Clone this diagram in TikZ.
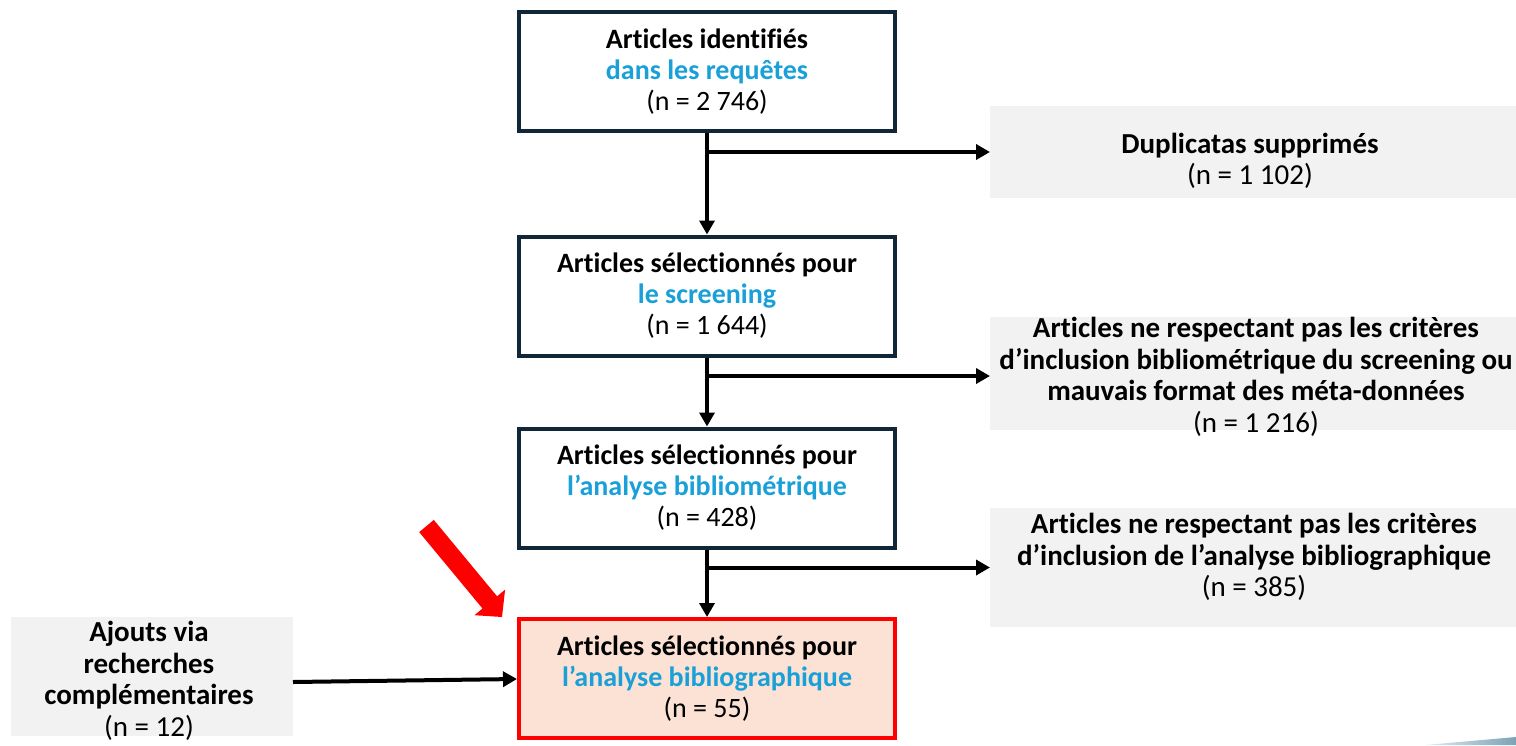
\documentclass[tikz,border=0pt]{standalone}
\usepackage{fontspec}
\setmainfont{Carlito}[Ligatures=NoCommon]
\usetikzlibrary{arrows.meta}
\definecolor{navy}{HTML}{0F2737}
\definecolor{accblue}{HTML}{1AA0D8}
\definecolor{grayfill}{HTML}{F2F2F2}
\definecolor{salmon}{HTML}{FBE2D5}
\definecolor{redline}{HTML}{FF0000}
\begin{document}
\begin{tikzpicture}[x=1pt,y=-1pt,
  mainbox/.style={draw=navy, line width=4pt, fill=white, minimum width=376pt, minimum height=119pt, inner sep=0pt, align=center, font=\fontsize{28}{31}\selectfont},
  redbox/.style={mainbox, draw=redline, fill=salmon},
  graybox/.style={fill=grayfill, inner sep=0pt, outer sep=0pt},
  txt/.style={align=center, font=\fontsize{29}{31.5}\selectfont, inner sep=0pt},
  arr/.style={line width=4pt, -{Triangle[length=14pt,width=15pt]}}
]
\useasboundingbox (0,0) rectangle (1516,745);

% main column
\node[mainbox] (b1) at (707,71.5) {\textbf{Articles identifiés}\\\textbf{\color{accblue}dans les requêtes}\\(n = 2 746)};
\node[mainbox] (b2) at (707,296) {\textbf{Articles sélectionnés pour}\\\textbf{\color{accblue}le screening}\\(n = 1 644)};
\node[mainbox] (b3) at (707,488) {\textbf{Articles sélectionnés pour}\\\textbf{\color{accblue}l’analyse bibliométrique}\\(n = 428)};
\node[redbox] (b4) at (707,678.5) {\textbf{Articles sélectionnés pour}\\\textbf{\color{accblue}l’analyse bibliographique}\\(n = 55)};

% grey boxes
\node[graybox, minimum width=526pt, minimum height=92pt] (g1) at (1253,152) {};
\node[txt] (t1) at (1250,161) {\textbf{Duplicatas supprimés}\\(n = 1 102)};
\node[graybox, minimum width=526pt, minimum height=113pt] (g2) at (1253,373.5) {};
\node[txt] (t2) at (1256,377) {\textbf{Articles ne respectant pas les critères}\\\textbf{d’inclusion bibliométrique du screening ou}\\\textbf{mauvais format des méta-données}\\(n = 1 216)};
\node[graybox, minimum width=526pt, minimum height=119pt] (g3) at (1253,567.5) {};
\node[txt] (t3) at (1254,557) {\textbf{Articles ne respectant pas les critères}\\\textbf{d’inclusion de l’analyse bibliographique}\\(n = 385)};
\node[graybox, minimum width=282pt, minimum height=119pt] (gl) at (152,676.5) {};
\node[txt] (tl) at (149,681) {\textbf{Ajouts via}\\\textbf{recherches}\\\textbf{complémentaires}\\(n = 12)};

% connectors
\draw[arr] (b1.south) -- (b2.north);
\draw[arr] (b2.south) -- (b3.north);
\draw[arr] (b3.south) -- (b4.north);
\draw[arr] (b1.south |- g1.west) -- (g1.west);
\draw[arr] (b2.south |- 0,376) -- (g2.west |- 0,376);
\draw[arr] (b3.south |- g3.west) -- (g3.west);
\draw[arr] ([yshift=-5.5pt]gl.east) -- ([yshift=-0.5pt]b4.west);

% red block arrow
\fill[red] (419.2,532.1) -- (433.8,519.9) -- (497.1,596.3) -- (505.1,589.6) -- (502,617) -- (474.5,615.2) -- (482.5,608.5) -- cycle;

% corner decoration
\shade[left color={rgb,255:red,225;green,234;blue,240}, right color={rgb,255:red,125;green,162;blue,184}] (1425,745) -- (1516,737) -- (1516,745) -- cycle;
\end{tikzpicture}
\end{document}
